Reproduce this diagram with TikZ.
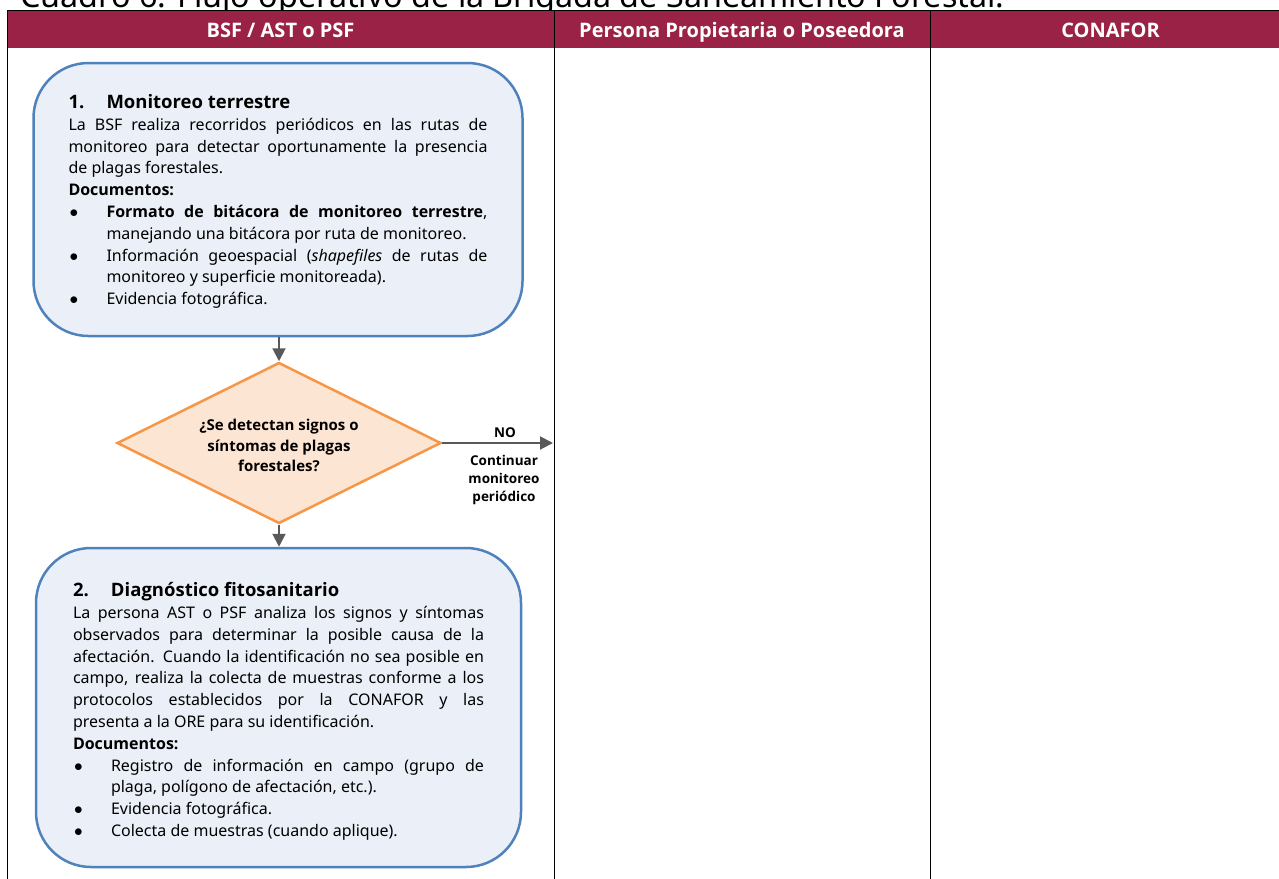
\documentclass[tikz,border=0pt]{standalone}
\usepackage{fontspec}
\setmainfont{Noto Sans}[BoldFont={Open Sans Bold}]
\usetikzlibrary{shapes.geometric,arrows.meta}
\definecolor{guinda}{HTML}{9B2247}
\definecolor{bluestroke}{HTML}{4F81BD}
\definecolor{bluefill}{HTML}{EBF0F8}
\definecolor{orangestroke}{HTML}{F79646}
\definecolor{orangefill}{HTML}{FDE5D3}
\definecolor{arrowgray}{HTML}{595959}
\newcommand\myitem[1]{\par\hangindent=38pt\hangafter=1\noindent\makebox[38pt][l]{\hspace{1pt}$\bullet$}#1\par}
\newcommand\boxsetup{\setlength{\parindent}{0pt}\setlength{\emergencystretch}{10pt}}
\tikzset{
  stepbox/.style={draw=bluestroke, fill=bluefill, line width=2.5pt, rounded corners=55pt,
    align=justify, inner sep=0pt,
    font={\fontsize{16}{21.8}\selectfont}},
  decision/.style={diamond, aspect=2, draw=orangestroke, fill=orangefill, line width=2.5pt,
    minimum width=324pt, minimum height=161pt, inner sep=0pt, align=center,
    font={\bfseries\fontsize{15}{20.4}\selectfont}},
  flowarrow/.style={draw=arrowgray, line width=2pt, -{Triangle[length=13pt,width=13pt]}},
  headtext/.style={text=white, anchor=base, font={\bfseries\fontsize{20}{23}\selectfont}},
  labeltext/.style={align=center, font={\bfseries\fontsize{13.5}{18.4}\selectfont}},
  tableline/.style={draw=black, line width=1pt}
}
\begin{document}
\begin{tikzpicture}[x=1pt,y=-1pt]
\useasboundingbox (0,0) rectangle (1279,878);
% title (cut off at top)
\node[anchor=base west, inner sep=0pt, font={\fontsize{32.3}{35}\selectfont}] (title) at (20,7) {Cuadro 6. Flujo operativo de la Brigada de Saneamiento Forestal.};
% header band
\fill[guinda] (7,10) rectangle (1290,48);
\draw[tableline] (7,10) -- (1290,10);
\draw[tableline] (7,10) -- (7,880);
\draw[tableline] (554,10) -- (554,880);
\draw[tableline] (930,10) -- (930,880);
\node[headtext] (h1) at (280.5,37) {BSF / AST o PSF};
\node[headtext] (h2) at (742,37) {Persona Propietaria o Poseedora};
\node[headtext] (h3) at (1110.5,37) {CONAFOR};
% step 1
\node[stepbox, text width=419pt, minimum width=489pt, minimum height=273pt] (m1) at (278,199.5) {\boxsetup%
{\bfseries\fontsize{18.5}{21.8}\selectfont\rule{0pt}{18.2pt}\makebox[38pt][l]{1.}Monitoreo terrestre\par}
La BSF realiza recorridos periódicos en las rutas de\linebreak monitoreo para detectar oportunamente la presencia\linebreak de plagas forestales.\par
{\bfseries Documentos:\par}
\myitem{\textbf{Formato de bitácora de monitoreo terrestre},\linebreak manejando una bitácora por ruta de monitoreo.}
\myitem{Información geoespacial (\textit{shapefiles} de rutas de\linebreak monitoreo y superficie monitoreada).}
\myitem{Evidencia fotográfica.}};
% decision
\node[decision] (d) at (279,443) {\rule{0pt}{16.5pt}¿Se detectan signos o\\síntomas de plagas\\forestales?};
\coordinate (noend) at (553,443);
\node[labeltext] (no) at (505,433) {NO};
\node[labeltext] (cont) at (504,480) {Continuar\\monitoreo\\periódico};
% step 2
\node[stepbox, text width=411pt, minimum width=485pt, minimum height=319pt] (m2) at (278.5,707.5) {\boxsetup%
{\bfseries\fontsize{18.5}{21.8}\selectfont\rule{0pt}{22.2pt}\makebox[38pt][l]{2.}Diagnóstico fitosanitario\par}
La persona AST o PSF analiza los signos y síntomas\linebreak observados para determinar la posible causa de la\linebreak afectación. Cuando la identificación no sea posible en\linebreak campo, realiza la colecta de muestras conforme a los\linebreak protocolos establecidos por la CONAFOR y las\linebreak presenta a la ORE para su identificación.\par
{\bfseries Documentos:\par}
\myitem{Registro de información en campo (grupo de\linebreak plaga, polígono de afectación, etc.).}
\myitem{Evidencia fotográfica.}
\myitem{Colecta de muestras (cuando aplique).}};
% connectors
\draw[flowarrow] (d.north |- m1.south) -- (d.north);
\draw[flowarrow] (d.east) -- (noend);
\draw[flowarrow] (d.south) -- (d.south |- m2.north);
\end{tikzpicture}
\end{document}
